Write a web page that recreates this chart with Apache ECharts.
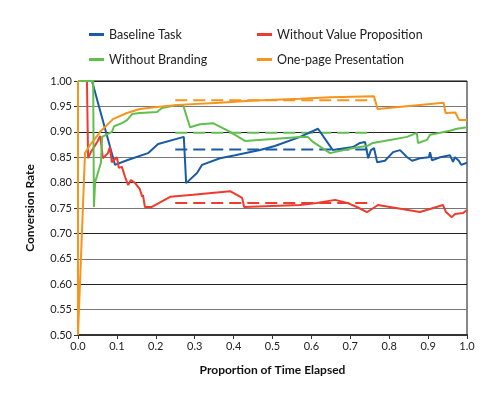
<!DOCTYPE html>
<html>
<head>
<meta charset="utf-8">
<script src="https://cdn.jsdelivr.net/npm/echarts@6/dist/echarts.min.js"></script>
<style>
  html, body { margin: 0; padding: 0; background: #fff; }
  #chart { width: 502px; height: 399px; }
</style>
</head>
<body>
<div id="chart"></div>
<script>
var seriesNames = ['Baseline Task', 'Without Value Proposition', 'Without Branding', 'One-page Presentation']
var colors = ['#1a5ba6', '#ee3b2d', '#62bf4f', '#f7941e']

// proportion of time elapsed / conversion rate
var baselineX = [0, 0.036, 0.095, 0.126, 0.180, 0.206, 0.272, 0.278, 0.306, 0.319, 0.365, 0.404, 0.468, 0.506, 0.571, 0.617, 0.655, 0.707, 0.725, 0.738, 0.746, 0.753, 0.761, 0.769, 0.789, 0.810, 0.828, 0.846, 0.859, 0.879, 0.902, 0.905, 0.910, 0.931, 0.956, 0.964, 0.969, 0.979, 0.985, 1.0]
var baselineY = [1.0, 1.0, 0.835, 0.844, 0.858, 0.876, 0.890, 0.799, 0.819, 0.835, 0.848, 0.854, 0.864, 0.872, 0.890, 0.906, 0.864, 0.870, 0.878, 0.880, 0.848, 0.864, 0.868, 0.840, 0.843, 0.860, 0.864, 0.850, 0.843, 0.848, 0.850, 0.860, 0.844, 0.850, 0.854, 0.841, 0.850, 0.843, 0.835, 0.839]

var valuePropX = [0, 0.023, 0.026, 0.033, 0.051, 0.057, 0.064, 0.077, 0.082, 0.087, 0.100, 0.105, 0.113, 0.121, 0.129, 0.136, 0.147, 0.159, 0.165, 0.167, 0.172, 0.190, 0.237, 0.296, 0.391, 0.422, 0.427, 0.571, 0.614, 0.661, 0.692, 0.717, 0.743, 0.756, 0.771, 0.879, 0.905, 0.938, 0.946, 0.961, 0.969, 0.990, 1.0]
var valuePropY = [1.0, 1.0, 0.848, 0.860, 0.882, 0.892, 0.848, 0.858, 0.870, 0.840, 0.850, 0.829, 0.831, 0.811, 0.795, 0.805, 0.799, 0.787, 0.772, 0.776, 0.752, 0.752, 0.772, 0.776, 0.783, 0.770, 0.752, 0.756, 0.760, 0.766, 0.760, 0.752, 0.742, 0.748, 0.756, 0.742, 0.748, 0.756, 0.742, 0.732, 0.738, 0.740, 0.746]

var brandingX = [0, 0.039, 0.041, 0.044, 0.059, 0.062, 0.087, 0.093, 0.113, 0.126, 0.139, 0.159, 0.203, 0.216, 0.257, 0.270, 0.288, 0.314, 0.347, 0.391, 0.429, 0.501, 0.571, 0.591, 0.604, 0.648, 0.707, 0.743, 0.758, 0.802, 0.846, 0.871, 0.874, 0.897, 0.905, 0.931, 0.956, 0.974, 1.0]
var brandingY = [1.0, 1.0, 0.752, 0.801, 0.839, 0.890, 0.900, 0.911, 0.917, 0.923, 0.935, 0.937, 0.939, 0.947, 0.953, 0.953, 0.909, 0.915, 0.917, 0.900, 0.882, 0.886, 0.890, 0.890, 0.880, 0.858, 0.868, 0.872, 0.878, 0.884, 0.890, 0.898, 0.878, 0.884, 0.894, 0.898, 0.902, 0.906, 0.909]

var onePageX = [0, 0, 0.018, 0.031, 0.057, 0.090, 0.126, 0.159, 0.203, 0.257, 0.365, 0.442, 0.571, 0.648, 0.761, 0.770, 0.940, 0.945, 0.970, 0.980, 1.0]
var onePageY = [1.0, 0.5, 0.858, 0.874, 0.900, 0.925, 0.937, 0.945, 0.949, 0.953, 0.957, 0.961, 0.965, 0.968, 0.970, 0.945, 0.957, 0.937, 0.938, 0.923, 0.923]

// dashed averages over the middle of the session
var meanFrom = 0.25
var meanTo = 0.76
var meanValues = [0.865, 0.760, 0.898, 0.962]

var xTicks = ['0.0', '0.1', '0.2', '0.3', '0.4', '0.5', '0.6', '0.7', '0.8', '0.9', '1.0']

function pairs(xs, ys) {
  return xs.map(function (x, i) { return [x, ys[i]] })
}

var allX = [baselineX, valuePropX, brandingX, onePageX]
var allY = [baselineY, valuePropY, brandingY, onePageY]

var series = []
seriesNames.forEach(function (name, i) {
  series.push({
    name: name,
    type: 'line',
    data: pairs(allX[i], allY[i]),
    symbol: 'none',
    lineStyle: { width: 2, color: colors[i] },
    itemStyle: { color: colors[i] },
    z: 3,
  })
})
seriesNames.forEach(function (name, i) {
  series.push({
    name: name + ' mean',
    type: 'line',
    data: [[meanFrom, meanValues[i]], [meanTo, meanValues[i]]],
    symbol: 'none',
    lineStyle: { width: 2, color: colors[i], type: [12, 6] },
    z: 2,
  })
})

// two rows of two legend entries
var legendPos = [[84, 23], [252, 23], [84, 48], [252, 48]]
var legends = seriesNames.map(function (name, j) {
  return {
    data: [name],
    left: legendPos[j][0],
    top: legendPos[j][1],
    icon: 'rect',
    itemWidth: 15,
    itemHeight: 3,
    itemGap: 9,
    textStyle: { fontFamily: 'Lato', fontSize: 12.5, color: '#222' },
  }
})

var myChart = echarts.init(document.getElementById('chart'), null, { renderer: 'canvas' })
var option = {
  animation: false,
  backgroundColor: '#fff',
  color: colors,
  legend: legends,
  grid: {
    left: 78,
    right: 35,
    top: 81,
    bottom: 64,
    show: true,
    borderColor: '#111',
    borderWidth: 1,
  },
  xAxis: {
    type: 'value',
    min: 0,
    max: 1,
    interval: 0.1,
    name: 'Proportion of Time Elapsed',
    nameLocation: 'middle',
    nameGap: 29,
    nameTextStyle: { fontFamily: 'Lato', fontWeight: 'bold', fontSize: 12, color: '#111' },
    axisLine: { lineStyle: { color: '#333', width: 2 } },
    axisTick: { show: true, length: 4, lineStyle: { color: '#333' } },
    axisLabel: {
      fontFamily: 'Lato', fontSize: 11, color: '#222', margin: 6,
      formatter: function (v) { return xTicks[Math.round(v * 10)] },
    },
    splitLine: { show: false },
  },
  yAxis: {
    type: 'value',
    min: 0.5,
    max: 1.0,
    interval: 0.05,
    name: 'Conversion Rate',
    nameLocation: 'middle',
    nameGap: 42,
    nameTextStyle: { fontFamily: 'Lato', fontWeight: 'bold', fontSize: 12, color: '#111' },
    axisLine: { show: true, lineStyle: { color: '#333', width: 1 } },
    axisTick: { show: true, length: 4, lineStyle: { color: '#333' } },
    axisLabel: {
      fontFamily: 'Lato', fontSize: 11, color: '#222', margin: 6,
      formatter: function (v) { return v.toFixed(2) },
    },
    splitLine: { show: true, lineStyle: { color: ['#222', '#777'], width: 1 } },
  },
  series: series,
}
option && myChart.setOption(option)
</script>
</body>
</html>
